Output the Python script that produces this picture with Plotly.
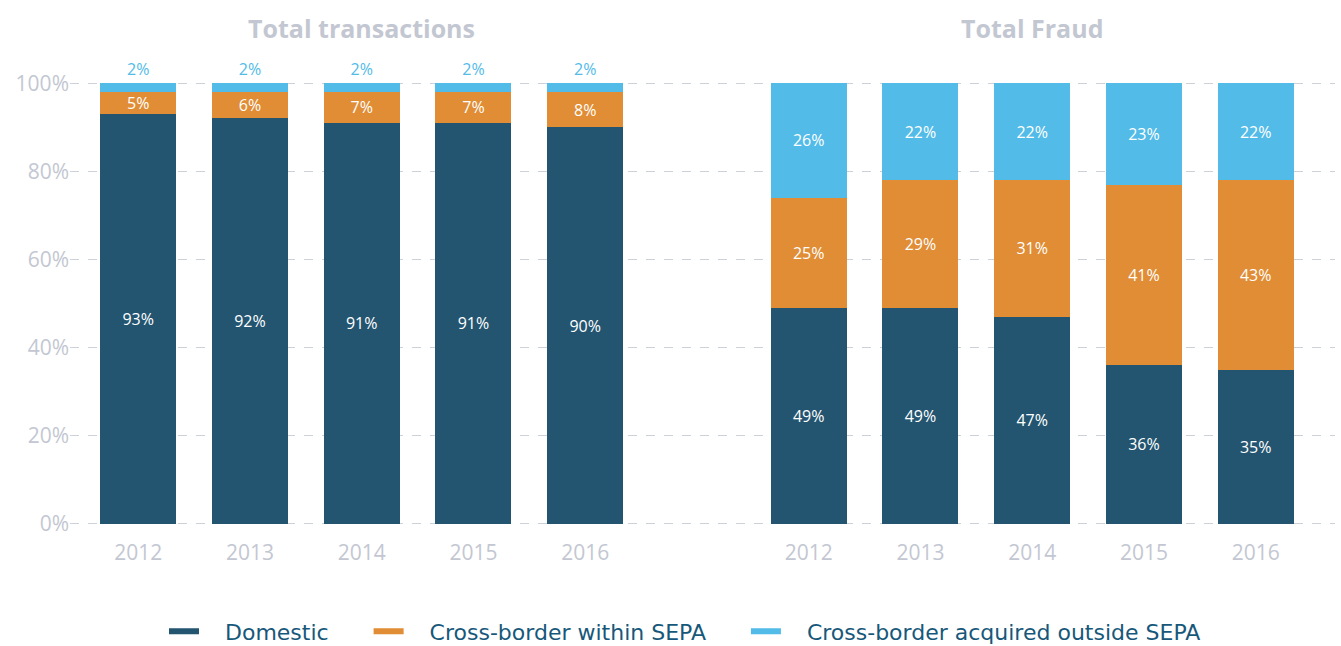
import plotly.graph_objects as go

years = ["2012", "2013", "2014", "2015", "2016"]
tx_domestic = [93, 92, 91, 91, 90]
tx_sepa = [5, 6, 7, 7, 8]
tx_outside = [2, 2, 2, 2, 2]
fr_domestic = [49, 49, 47, 36, 35]
fr_sepa = [25, 29, 31, 41, 43]
fr_outside = [26, 22, 22, 23, 22]

series_names = ["Domestic", "Cross-border within SEPA", "Cross-border acquired outside SEPA"]
colors = ["#235571", "#e08d35", "#52bbe8"]
panel_titles = ["Total transactions", "Total Fraud"]
y_ticks = [0, 20, 40, 60, 80, 100]

n = len(years)
gap = 1
xpos = list(range(n)) + [n + gap + i for i in range(n)]
ticktext = years + years

FONT = "Open Sans"
NB = "\u00a0"
fig = go.Figure()

series = [(tx_domestic, fr_domestic), (tx_sepa, fr_sepa), (tx_outside, fr_outside)]
for k, (tx, fr) in enumerate(series):
    vals = tx + fr
    if k == 2:
        tpos = ["outside"] * n + ["inside"] * n
        tcol = [colors[2]] * n + ["white"] * n
    else:
        tpos = ["inside"] * (2 * n)
        tcol = ["white"] * (2 * n)
    fig.add_trace(go.Bar(
        x=xpos, y=vals, name=series_names[k], marker_color=colors[k],
        marker_line_width=0, width=0.68,
        text=[f"{v}%" for v in vals], textposition=tpos,
        insidetextanchor="middle", textangle=0,
        textfont=dict(color=tcol, size=16, family=FONT),
        cliponaxis=False, showlegend=False, hoverinfo="skip",
    ))
    fig.add_trace(go.Scatter(
        x=[None], y=[None], mode="lines",
        name=NB * 3 + series_names[k] + NB * 5,
        line=dict(color=colors[k], width=6), showlegend=True,
    ))

for i, t in enumerate(panel_titles):
    fig.add_annotation(
        x=(n - 1) / 2 + i * (n + gap), y=1.12, xref="x", yref="paper",
        yanchor="middle", text=f"<b>{t}</b>", showarrow=False,
        font=dict(size=25, color="#c3c7d2", family=FONT),
    )

fig.update_layout(
    width=1341, height=646,
    barmode="stack",
    paper_bgcolor="white", plot_bgcolor="white",
    margin=dict(l=70, r=6, t=81, b=120, autoexpand=False),
    font=dict(family=FONT),
    uniformtext=dict(mode="show", minsize=16),
    xaxis=dict(
        tickmode="array", tickvals=xpos, ticktext=ticktext,
        range=[-0.61, 2 * n + gap - 1 + 0.71],
        showgrid=False, zeroline=False, showline=False, ticks="",
        tickfont=dict(size=21, color="#c3c7d2"), automargin=False,
        ticklabelstandoff=12,
    ),
    yaxis=dict(
        range=[-0.5, 100.5], tickmode="array", tickvals=y_ticks,
        ticktext=[f"{v}%" for v in y_ticks],
        showgrid=True, gridcolor="#cdd1da", griddash="dash", gridwidth=1,
        zeroline=False, showline=False, ticks="",
        tickfont=dict(size=21, color="#c3c7d2"), automargin=False,
    ),
    legend=dict(
        orientation="h", x=0.5, xanchor="center", y=-0.19, yanchor="top",
        traceorder="normal",
        font=dict(size=22, color="#17587a", family="DejaVu Sans"),
    ),
)

fig.write_html(
    "out.html",
    config={"displayModeBar": False},
    post_script="document.body.style.margin='0';document.body.style.overflow='hidden';",
)
